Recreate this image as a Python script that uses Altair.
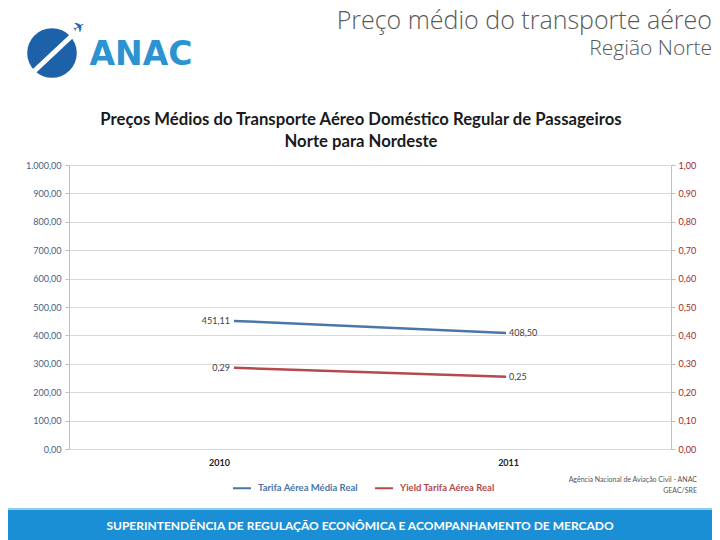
import altair as alt
import pandas as pd

# ---- data ----
years = ["2010", "2011"]
tarifa = [451.11, 408.50]
yield_vals = [0.286, 0.254]
series = ["Tarifa Aérea Média Real", "Yield Tarifa Aérea Real"]
series_colors = ["#4a76a8", "#b5494c"]
left_ticks = [0, 100, 200, 300, 400, 500, 600, 700, 800, 900, 1000]
right_ticks = [0, 0.1, 0.2, 0.3, 0.4, 0.5, 0.6, 0.7, 0.8, 0.9, 1.0]

df = pd.DataFrame({"year": years, "tarifa": tarifa, "yield": yield_vals})

W, H = 602, 284
FONT = "Lato"

base = alt.Chart(df)
xenc = alt.X(
    "year:O",
    scale=alt.Scale(type="point", padding=0.606),
    axis=alt.Axis(title=None, labelFontWeight="bold", labelFontSize=9, labelColor="#222222",
                  domain=False, ticks=False, labelPadding=9, labelAngle=0, labelFont=FONT,
                  labelOffset=alt.ExprRef("datum.label == '2010' ? -15 : 2")),
)

cscale = alt.Scale(domain=series, range=series_colors)
legend = alt.Legend(
    title=None, orient="none", legendX=163, legendY=313, direction="horizontal",
    symbolType="stroke", symbolStrokeWidth=2, symbolSize=324, labelFontSize=9.5,
    labelFont=FONT, labelFontWeight="bold", labelOffset=6, columnPadding=13,
    labelColor=alt.ExprRef("datum.label == 'Tarifa Aérea Média Real' ? '#4a76a8' : '#b5494c'"),
)

yleft_scale = alt.Scale(domain=[0, 1000], nice=False)
yright_scale = alt.Scale(domain=[0, 1], nice=False)

blue = base.mark_line(strokeWidth=2.5).encode(
    x=xenc,
    y=alt.Y("tarifa:Q", scale=yleft_scale, axis=alt.Axis(
        title=None, values=left_ticks,
        labelExpr="replace(replace(replace(format(datum.value, ',.2f'), ',', '_'), '.', ','), '_', '.')",
        labelColor="#3f5f8a", labelFontSize=9, labelFont=FONT, domainColor="#bfbfbf",
        tickColor="#bfbfbf", tickSize=4, gridColor="#d9d9d9", labelPadding=4)),
    color=alt.Color("serie:N", scale=cscale, legend=legend),
).transform_calculate(serie="'Tarifa Aérea Média Real'")

blue_lbl_l = base.mark_text(align="right", baseline="middle", dx=-4, fontSize=9, font=FONT, color="#404040").encode(
    x=xenc, y=alt.Y("tarifa:Q", scale=yleft_scale, axis=None), text="lbl:N"
).transform_filter("datum.year == '2010'").transform_calculate(lbl="replace(format(datum.tarifa, '.2f'), '.', ',')")
blue_lbl_r = base.mark_text(align="left", baseline="middle", dx=3, fontSize=9, font=FONT, color="#404040").encode(
    x=xenc, y=alt.Y("tarifa:Q", scale=yleft_scale, axis=None), text="lbl:N"
).transform_filter("datum.year == '2011'").transform_calculate(lbl="replace(format(datum.tarifa, '.2f'), '.', ',')")

red = base.mark_line(strokeWidth=2.5).encode(
    x=xenc,
    y=alt.Y("yield:Q", scale=yright_scale, axis=alt.Axis(
        title=None, orient="right", values=right_ticks,
        labelExpr="replace(format(datum.value, '.2f'), '.', ',')",
        labelColor="#a0282a", labelFontSize=9, labelFont=FONT, domainColor="#bfbfbf",
        tickColor="#bfbfbf", tickSize=4, grid=False, labelPadding=3)),
    color=alt.Color("serie:N", scale=cscale, legend=legend),
).transform_calculate(serie="'Yield Tarifa Aérea Real'")
red_lbl_l = base.mark_text(align="right", baseline="middle", dx=-4, fontSize=9, font=FONT, color="#404040").encode(
    x=xenc, y=alt.Y("yield:Q", scale=yright_scale, axis=None), text="lbl:N"
).transform_filter("datum.year == '2010'").transform_calculate(lbl="replace(format(datum.yield, '.2f'), '.', ',')")
red_lbl_r = base.mark_text(align="left", baseline="middle", dx=3, fontSize=9, font=FONT, color="#404040").encode(
    x=xenc, y=alt.Y("yield:Q", scale=yright_scale, axis=None), text="lbl:N"
).transform_filter("datum.year == '2011'").transform_calculate(lbl="replace(format(datum.yield, '.2f'), '.', ',')")

# ---- decorations (plot origin is page (69,165)) ----
def txt(s, x, y, **kw):
    return alt.Chart(pd.DataFrame({"t": [s]})).mark_text(**kw).encode(
        text="t:N", x=alt.value(x), y=alt.value(y))

title1 = txt("Preços Médios do Transporte Aéreo Doméstico Regular de Passageiros", 292, -45,
             fontSize=16.7, fontWeight="bold", font=FONT, color="#1a1a1a", align="center", baseline="middle")
title2 = txt("Norte para Nordeste", 292, -23,
             fontSize=16.7, fontWeight="bold", font=FONT, color="#1a1a1a", align="center", baseline="middle")
head1 = txt("Preço médio do transporte aéreo", 643, -136,
            fontSize=25, font="Open Sans", fontWeight=300, color="#595959", align="right", baseline="alphabetic")
head2 = txt("Região Norte", 643, -110.5,
            fontSize=21, font="Open Sans", fontWeight=300, color="#595959", align="right", baseline="alphabetic")
anac = txt("ANAC", 72, -110, fontSize=33, font="DejaVu Sans", fontWeight="bold",
           color="#2b93d1", align="center", baseline="middle")
plane = txt("✈", 10, -138, fontSize=15, font="DejaVu Sans", color="#1d62a8",
            align="center", baseline="middle", angle=330)
globe = alt.Chart(pd.DataFrame({"a": [1]})).mark_point(
    shape="circle", filled=True, size=2460, color="#1d62a8", opacity=1).encode(
    x=alt.value(-17), y=alt.value(-112))
swoosh = alt.Chart(pd.DataFrame({"a": [1]})).mark_rule(color="white", strokeWidth=5).encode(
    x=alt.value(-40), x2=alt.value(8), y=alt.value(-89), y2=alt.value(-134))
src1 = txt("Agência Nacional de Aviação Civil - ANAC", 628, 315, fontSize=7, font=FONT,
           color="#555555", align="right", baseline="middle")
src2 = txt("GEAC/SRE", 628, 326, fontSize=7, font=FONT, color="#555555", align="right", baseline="middle")
band_top = alt.Chart(pd.DataFrame({"a": [1]})).mark_rect(color="#8fcdf0").encode(
    x=alt.value(-69), x2=alt.value(651), y=alt.value(343), y2=alt.value(346))
band = alt.Chart(pd.DataFrame({"a": [1]})).mark_rect(color="#1b8fd6").encode(
    x=alt.value(-69), x2=alt.value(651), y=alt.value(345), y2=alt.value(380))
foot = txt("SUPERINTENDÊNCIA DE REGULAÇÃO ECONÔMICA E ACOMPANHAMENTO DE MERCADO", 291, 361,
           fontSize=12, font=FONT, fontWeight="bold", color="white", align="center", baseline="middle")

chart = alt.layer(
    blue, red, blue_lbl_l, blue_lbl_r, red_lbl_l, red_lbl_r,
    title1, title2, head1, head2, globe, swoosh, plane, anac, src1, src2, band_top, band, foot,
).resolve_scale(y="independent").properties(
    width=W, height=H,
    autosize=alt.AutoSizeParams(type="none"),
    padding={"left": 61, "top": 157, "right": 41, "bottom": 91},
    background="white",
).configure_view(stroke=None)

chart.save("out.html", embed_options={"renderer": "svg", "actions": False})
